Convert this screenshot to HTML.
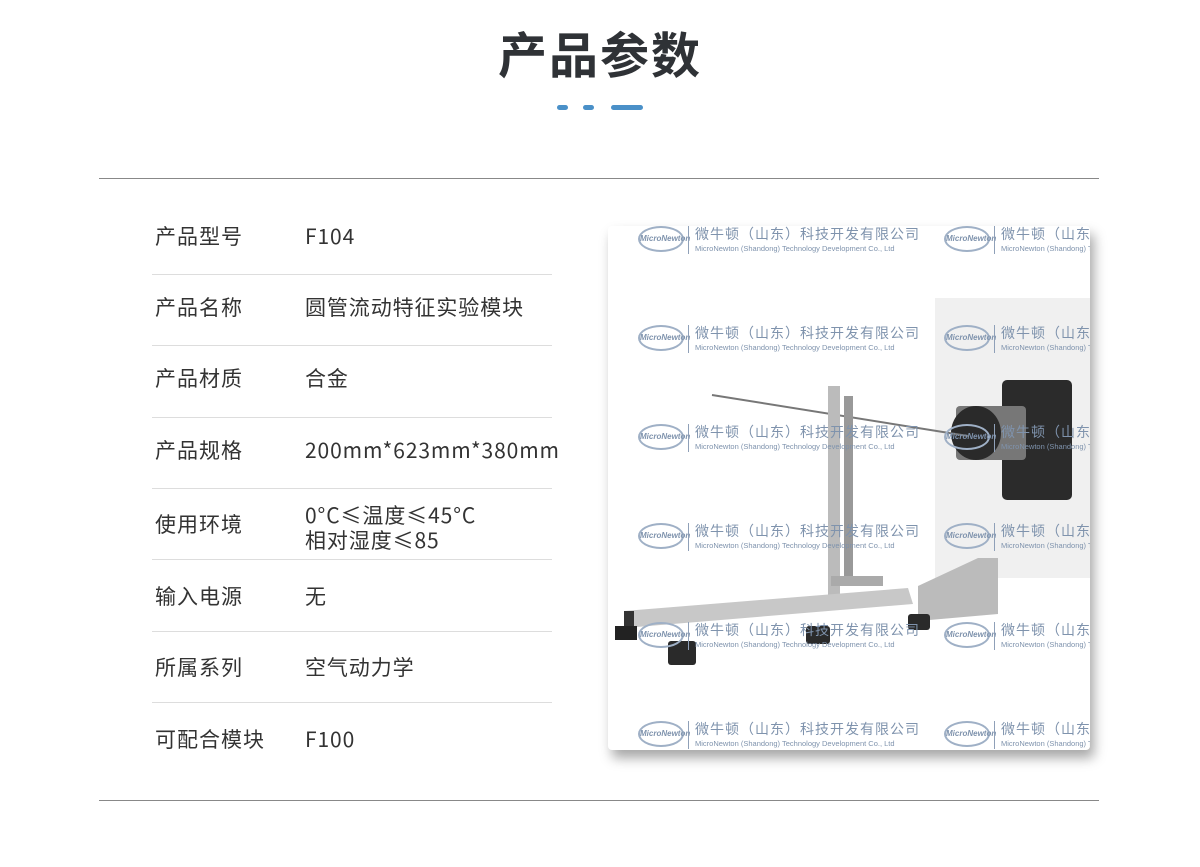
<!DOCTYPE html>
<html><head><meta charset="utf-8"><style>
body{margin:0;width:1200px;height:867px;background:#fff;position:relative;overflow:hidden;font-family:"Noto Sans CJK SC","Liberation Sans",sans-serif;color:#333}
.t{position:absolute;left:0;width:1200px;top:18px;text-align:center;font-size:49px;font-weight:bold;color:#2f3236;letter-spacing:2px;line-height:70px}
.d{position:absolute;top:105px;height:5px;border-radius:3px;background:#4a90c8}
.hl{position:absolute;left:99px;width:1000px;height:1px;background:#888}
.sep{position:absolute;left:152px;width:400px;height:1px;background:#ddd}
.l,.v{position:absolute;font-size:21px;color:#333;line-height:25px}
.l{left:155px;letter-spacing:1px}.v{left:305px;letter-spacing:.9px}
.card{position:absolute;left:608px;top:226px;width:482px;height:524px;background:#fff;box-shadow:4px 8px 12px rgba(0,0,0,.35);overflow:hidden;border-radius:4px}
.wm{position:absolute;color:#7f93ad;white-space:nowrap}
.wm .c{font-size:14px;position:absolute;left:57px;top:-8px;letter-spacing:1px}
.wm .e{font-size:7.5px;position:absolute;left:57px;top:12px;font-family:"Liberation Sans",sans-serif}
.wm .b{position:absolute;left:50px;top:-6px;width:1px;height:28px;background:#8fa0b8}
.wm .o{position:absolute;left:0;top:-6px;font-size:8px;font-style:italic;font-weight:bold;width:46px;height:26px;border:2px solid #9fb0c6;border-radius:50%;text-align:center;line-height:22px;box-sizing:border-box;font-family:"Liberation Sans",sans-serif}
</style></head><body>
<div class="t">产品参数</div>
<div class="d" style="left:557px;width:11px"></div>
<div class="d" style="left:583px;width:11px"></div>
<div class="d" style="left:611px;width:32px"></div>
<div class="hl" style="top:178px"></div>
<div class="hl" style="top:800px"></div>

<div class="l" style="top:224px">产品型号</div><div class="v" style="top:224px">F104</div>
<div class="sep" style="top:274px"></div>
<div class="l" style="top:295px">产品名称</div><div class="v" style="top:295px">圆管流动特征实验模块</div>
<div class="sep" style="top:345px"></div>
<div class="l" style="top:366px">产品材质</div><div class="v" style="top:366px">合金</div>
<div class="sep" style="top:417px"></div>
<div class="l" style="top:438px">产品规格</div><div class="v" style="top:438px">200mm*623mm*380mm</div>
<div class="sep" style="top:488px"></div>
<div class="l" style="top:512px">使用环境</div><div class="v" style="top:503px">0°C≤温度≤45°C<br>相对湿度≤85</div>
<div class="sep" style="top:559px"></div>
<div class="l" style="top:584px">输入电源</div><div class="v" style="top:584px">无</div>
<div class="sep" style="top:631px"></div>
<div class="l" style="top:655px">所属系列</div><div class="v" style="top:655px">空气动力学</div>
<div class="sep" style="top:702px"></div>
<div class="l" style="top:727px">可配合模块</div><div class="v" style="top:727px">F100</div>

<div class="card">
<svg width="482" height="524" style="position:absolute;left:0;top:0">
<rect x="327" y="72" width="160" height="280" fill="#f0f0f0"/>
<rect x="394" y="154" width="70" height="120" rx="5" fill="#2b2b2b"/>
<rect x="348" y="180" width="70" height="54" rx="4" fill="#777"/>
<ellipse cx="368" cy="207" rx="25" ry="27" fill="#2a2a2a"/>
<line x1="104" y1="169" x2="360" y2="210" stroke="#777" stroke-width="2"/>
<rect x="220" y="160" width="12" height="212" fill="#bbb"/>
<rect x="236" y="170" width="9" height="190" fill="#999"/>
<polygon points="223,350 275,350 275,360 223,360" fill="#aaa"/>
<polygon points="16,385 300,362 305,378 16,402" fill="#c8c8c8"/>
<rect x="16" y="385" width="10" height="20" fill="#333"/>
<polygon points="310,360 370,332 390,332 390,388 310,395" fill="#bbb"/>
<rect x="7" y="400" width="22" height="14" fill="#222"/>
<rect x="60" y="415" width="28" height="24" rx="3" fill="#2a2a2a"/>
<rect x="198" y="400" width="24" height="18" rx="3" fill="#2a2a2a"/>
<rect x="300" y="388" width="22" height="16" rx="3" fill="#2a2a2a"/>
</svg>
<div class="wm" style="left:30px;top:6px"><div class="o">MicroNewton</div><div class="b"></div><div class="c">微牛顿（山东）科技开发有限公司</div><div class="e">MicroNewton (Shandong) Technology Development Co., Ltd</div></div>
<div class="wm" style="left:336px;top:6px"><div class="o">MicroNewton</div><div class="b"></div><div class="c">微牛顿（山东）科技开发有限公司</div><div class="e">MicroNewton (Shandong) Technology Development Co., Ltd</div></div>
<div class="wm" style="left:30px;top:105px"><div class="o">MicroNewton</div><div class="b"></div><div class="c">微牛顿（山东）科技开发有限公司</div><div class="e">MicroNewton (Shandong) Technology Development Co., Ltd</div></div>
<div class="wm" style="left:336px;top:105px"><div class="o">MicroNewton</div><div class="b"></div><div class="c">微牛顿（山东）科技开发有限公司</div><div class="e">MicroNewton (Shandong) Technology Development Co., Ltd</div></div>
<div class="wm" style="left:30px;top:204px"><div class="o">MicroNewton</div><div class="b"></div><div class="c">微牛顿（山东）科技开发有限公司</div><div class="e">MicroNewton (Shandong) Technology Development Co., Ltd</div></div>
<div class="wm" style="left:336px;top:204px"><div class="o">MicroNewton</div><div class="b"></div><div class="c">微牛顿（山东）科技开发有限公司</div><div class="e">MicroNewton (Shandong) Technology Development Co., Ltd</div></div>
<div class="wm" style="left:30px;top:303px"><div class="o">MicroNewton</div><div class="b"></div><div class="c">微牛顿（山东）科技开发有限公司</div><div class="e">MicroNewton (Shandong) Technology Development Co., Ltd</div></div>
<div class="wm" style="left:336px;top:303px"><div class="o">MicroNewton</div><div class="b"></div><div class="c">微牛顿（山东）科技开发有限公司</div><div class="e">MicroNewton (Shandong) Technology Development Co., Ltd</div></div>
<div class="wm" style="left:30px;top:402px"><div class="o">MicroNewton</div><div class="b"></div><div class="c">微牛顿（山东）科技开发有限公司</div><div class="e">MicroNewton (Shandong) Technology Development Co., Ltd</div></div>
<div class="wm" style="left:336px;top:402px"><div class="o">MicroNewton</div><div class="b"></div><div class="c">微牛顿（山东）科技开发有限公司</div><div class="e">MicroNewton (Shandong) Technology Development Co., Ltd</div></div>
<div class="wm" style="left:30px;top:501px"><div class="o">MicroNewton</div><div class="b"></div><div class="c">微牛顿（山东）科技开发有限公司</div><div class="e">MicroNewton (Shandong) Technology Development Co., Ltd</div></div>
<div class="wm" style="left:336px;top:501px"><div class="o">MicroNewton</div><div class="b"></div><div class="c">微牛顿（山东）科技开发有限公司</div><div class="e">MicroNewton (Shandong) Technology Development Co., Ltd</div></div>
</div>
</body></html>
